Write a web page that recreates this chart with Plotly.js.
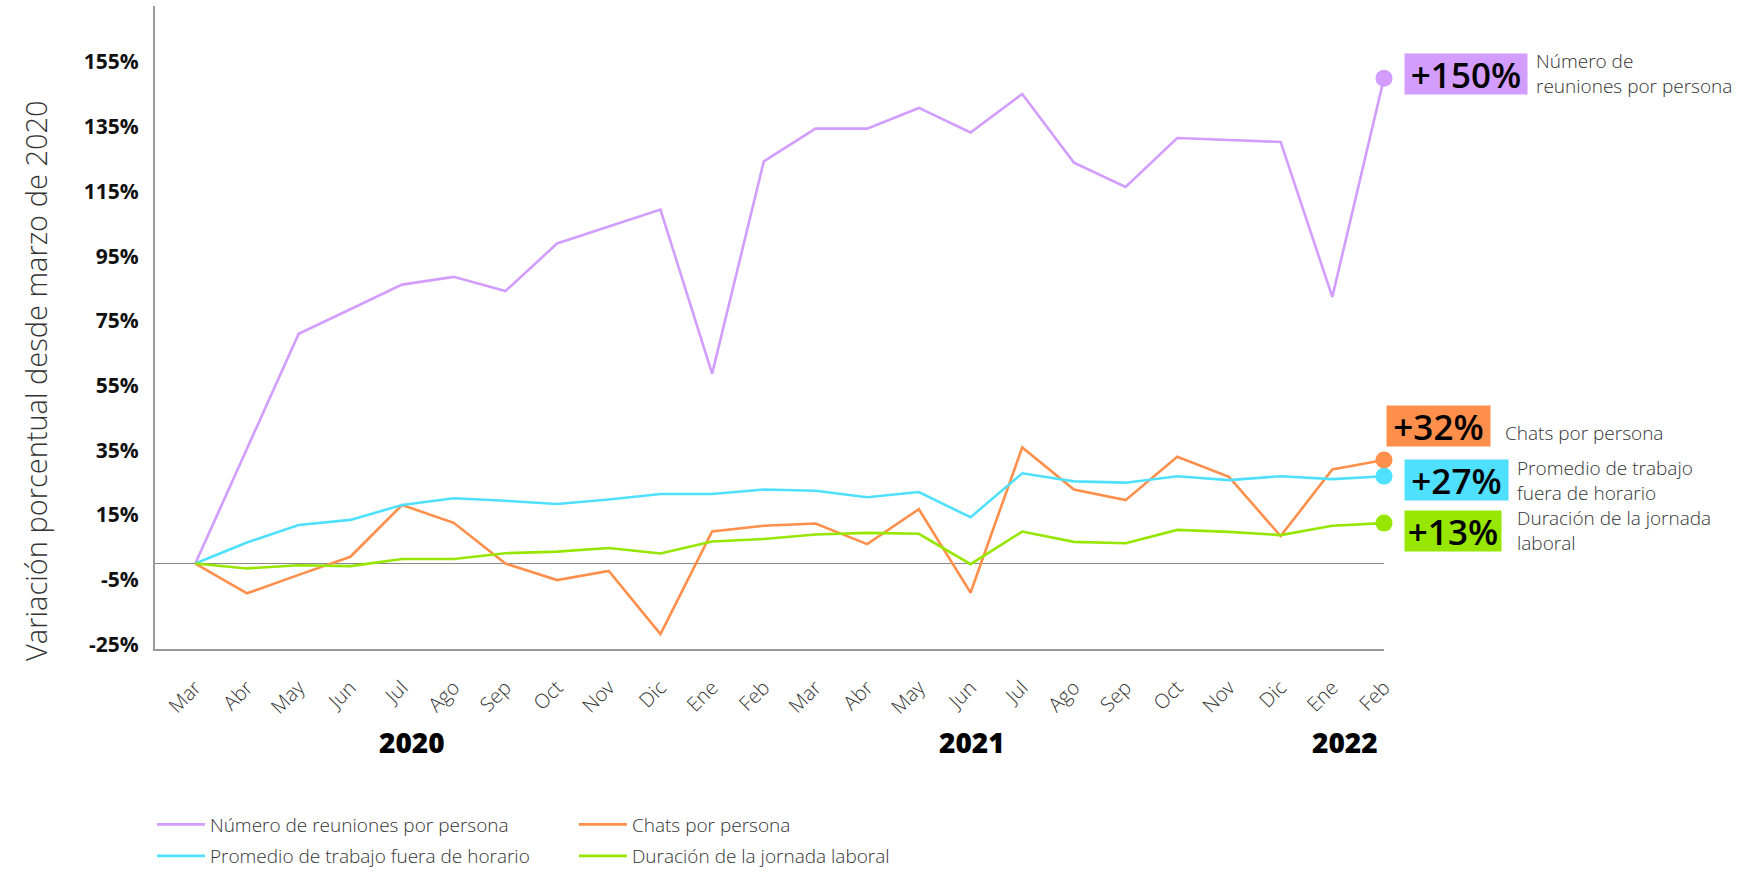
<!DOCTYPE html>
<html>
<head>
<meta charset="utf-8">
<script src="https://cdn.plot.ly/plotly-3.0.1.min.js"></script>
<style>html,body{margin:0;padding:0;background:#fff;}#chart{width:1757px;height:875px;}</style>
</head>
<body>
<div id="chart"></div>
<script>
// ---- data ----
const months = ['Mar','Abr','May','Jun','Jul','Ago','Sep','Oct','Nov','Dic','Ene','Feb',
                'Mar','Abr','May','Jun','Jul','Ago','Sep','Oct','Nov','Dic','Ene','Feb'];
const years = ['2020', '2021', '2022'];
const yearPos = [4.19, 15.02, 22.24];
const yTicks = [-25, -5, 15, 35, 55, 75, 95, 115, 135, 155];

const seriesNames = ['Número de reuniones por persona', 'Chats por persona',
                     'Promedio de trabajo fuera de horario', 'Duración de la jornada laboral'];
const reuniones = [0, 35.5, 71, 78.6, 86.2, 88.6, 84.2, 98.9, 104.2, 109.4, 58.7, 124.3,
                   134.4, 134.4, 140.8, 133.2, 145.1, 123.9, 116.4, 131.5, 130.9, 130.3, 82.4, 150];
const chats = [0, -9.2, -3.5, 2.1, 18.1, 12.6, 0, -5.1, -2.3, -21.8, 9.9, 11.7,
               12.4, 6.0, 16.8, -9.0, 35.9, 22.9, 19.6, 33.0, 26.8, 8.5, 29.1, 32];
const promedio = [0, 6.5, 11.9, 13.5, 18.1, 20.2, 19.4, 18.4, 19.8, 21.5, 21.5, 22.9,
                  22.5, 20.5, 22.1, 14.3, 27.9, 25.4, 25.0, 27.0, 25.8, 27.0, 26.1, 27];
const duracion = [0, -1.5, -0.5, -0.8, 1.4, 1.4, 3.2, 3.7, 4.8, 3.1, 6.8, 7.6,
                  9.0, 9.5, 9.2, -0.2, 9.9, 6.7, 6.3, 10.4, 9.8, 8.8, 11.7, 12.5];
const badgeTexts = ['+150%', '+32%', '+27%', '+13%'];
const descTexts = ['Número de<br>reuniones por persona', 'Chats por persona',
                   'Promedio de trabajo<br>fuera de horario', 'Duración de la jornada<br>laboral'];

// ---- styles ----
const colors = ['#D29DFF', '#FF8F4B', '#50E0FF', '#96E600'];
const legendIds = ['legend', 'legend', 'legend2', 'legend2'];
const badgeStyle = [
  {w: 122, xs: 20, ys: 4},
  {w: 103, xs: 2, ys: 34},
  {w: 103, xs: 20, ys: -4},
  {w: 96, xs: 20, ys: -8}
];
const descStyle = [
  {xs: 150, ys: 5},
  {xs: 119, ys: 27.5},
  {xs: 131, ys: -4},
  {xs: 131, ys: -7}
];
const FONT = '"Open Sans", "Noto Sans", sans-serif';

const allSeries = [reuniones, chats, promedio, duracion];
const xIdx = months.map((m, i) => i);
const lastI = months.length - 1;

const traces = [];
allSeries.forEach((s, k) => {
  traces.push({
    type: 'scatter', mode: 'lines', x: xIdx, y: s, name: seriesNames[k],
    line: {color: colors[k], width: 2.6}, legend: legendIds[k], cliponaxis: false,
    hoverinfo: 'skip'
  });
});
allSeries.forEach((s, k) => {
  traces.push({
    type: 'scatter', mode: 'markers', x: [xIdx[lastI]], y: [s[lastI]],
    marker: {color: colors[k], size: 17}, showlegend: false, cliponaxis: false,
    hoverinfo: 'skip'
  });
});

const annotations = [];
allSeries.forEach((s, k) => {
  annotations.push({
    x: xIdx[lastI], y: s[lastI], xref: 'x', yref: 'y', showarrow: false,
    text: badgeTexts[k], xanchor: 'left', yanchor: 'middle',
    xshift: badgeStyle[k].xs, yshift: badgeStyle[k].ys,
    width: badgeStyle[k].w, height: 40, bgcolor: colors[k], borderpad: 0,
    font: {family: FONT, size: 35, color: '#000', weight: 600}
  });
  annotations.push({
    x: xIdx[lastI], y: s[lastI], xref: 'x', yref: 'y', showarrow: false,
    text: descTexts[k], xanchor: 'left', yanchor: 'middle', align: 'left',
    xshift: descStyle[k].xs, yshift: descStyle[k].ys,
    font: {family: FONT, size: 19, color: '#333', weight: 300}
  });
});
years.forEach((t, i) => {
  annotations.push({
    x: yearPos[i], y: -0.1454, xref: 'x', yref: 'paper', showarrow: false,
    text: t, xanchor: 'center', yanchor: 'middle',
    font: {family: FONT, size: 28, color: '#000', weight: 800}
  });
});
annotations.push({
  x: -0.0968, y: 0.417, xref: 'paper', yref: 'paper', showarrow: false,
  text: 'Variación porcentual desde marzo de 2020', textangle: -90,
  xanchor: 'center', yanchor: 'middle',
  font: {family: FONT, size: 29, color: '#333', weight: 300}
});

const legendCommon = {
  orientation: 'h', xanchor: 'left', x: -0.0025,
  font: {family: FONT, size: 19, color: '#333', weight: 300},
  entrywidth: 359, entrywidthmode: 'pixels', itemwidth: 48,
  bgcolor: 'rgba(0,0,0,0)', traceorder: 'normal', borderwidth: 0
};

const layout = {
  width: 1757, height: 875,
  margin: {l: 155, r: 373, t: 6, b: 226, autoexpand: false},
  paper_bgcolor: '#fff', plot_bgcolor: '#fff',
  font: {family: FONT},
  showlegend: true,
  legend: Object.assign({}, legendCommon, {y: -0.273, yanchor: 'middle'}),
  legend2: Object.assign({}, legendCommon, {y: -0.3515, yanchor: 'bottom'}),
  xaxis: {
    range: [-0.78, 23], tickmode: 'array', tickvals: xIdx, ticktext: months,
    tickangle: -45, showgrid: false, zeroline: false,
    showline: true, linecolor: '#9a9a9a', linewidth: 2,
    ticks: 'outside', ticklen: 17, tickcolor: 'rgba(0,0,0,0)',
    tickfont: {family: FONT, size: 20, color: '#333', weight: 300},
    fixedrange: true, automargin: false
  },
  yaxis: {
    range: [-26.4, 172.3], tickmode: 'array', tickvals: yTicks,
    ticktext: yTicks.map(v => v + '%'),
    showgrid: false, zeroline: true, zerolinecolor: '#8a8a8a', zerolinewidth: 1.5,
    showline: true, linecolor: '#9a9a9a', linewidth: 2,
    ticks: 'outside', ticklen: 10, tickcolor: 'rgba(0,0,0,0)',
    tickfont: {family: FONT, size: 21, color: '#111', weight: 700},
    fixedrange: true, automargin: false
  },
  annotations: annotations
};

Plotly.newPlot('chart', traces, layout, {displayModeBar: false, staticPlot: true});
</script>
</body>
</html>
